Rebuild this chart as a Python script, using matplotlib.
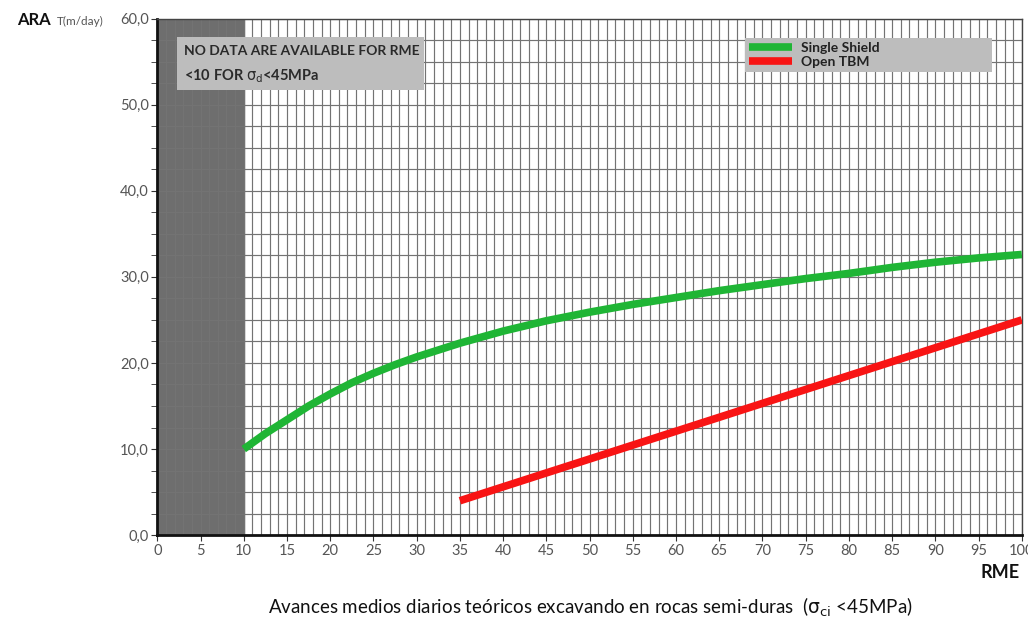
import matplotlib.pyplot as plt
from matplotlib.patches import Rectangle
from matplotlib.ticker import MultipleLocator, FuncFormatter

# ------------------------------------------------------------
# Avance medio diario teórico (ARA) frente a RME
# ------------------------------------------------------------

rme_single = [10, 12.5, 15, 17.5, 20, 22.5, 25, 27.5, 30, 32.5, 35, 40, 45, 50,
              55, 60, 65, 70, 75, 80, 85, 90, 95, 100]
ara_single = [10.0, 11.8, 13.4, 15.0, 16.4, 17.7, 18.8, 19.8, 20.7, 21.5, 22.3, 23.7,
              24.9, 25.9, 26.8, 27.6, 28.4, 29.1, 29.8, 30.4, 31.1, 31.7, 32.2, 32.6]

rme_open = [35, 100]
ara_open = [4.0, 25.0]

labels = ['Single Shield', 'Open TBM']
colors = ['#1fb535', '#f81414']

plt.rcParams['font.family'] = ['Lato', 'DejaVu Sans']

fig = plt.figure(figsize=(10.28, 6.18), dpi=100)
ax = fig.add_axes([0.153, 0.134, 0.841, 0.836])

ax.set_xlim(0, 100)
ax.set_ylim(0, 60)

# zona sin datos (RME < 10)
ax.axvspan(0, 10, color='#6e6e6e', zorder=0)

# cuadrícula fina
ax.xaxis.set_major_locator(MultipleLocator(5))
ax.xaxis.set_minor_locator(MultipleLocator(1))
ax.yaxis.set_major_locator(MultipleLocator(10))
ax.yaxis.set_minor_locator(MultipleLocator(2.5))
ax.grid(which='both', color='#737373', linewidth=0.85, zorder=1)
ax.set_axisbelow(True)

ax.plot(rme_single, ara_single, color=colors[0], linewidth=5.5,
        solid_capstyle='butt', solid_joinstyle='round', label=labels[0], zorder=3)
ax.plot(rme_open, ara_open, color=colors[1], linewidth=5.5,
        solid_capstyle='butt', label=labels[1], zorder=3)

# ejes
for side in ['top', 'right']:
    ax.spines[side].set_color('#444444')
    ax.spines[side].set_linewidth(1.0)
for side in ['left', 'bottom']:
    ax.spines[side].set_color('#111111')
    ax.spines[side].set_linewidth(2.0)

ax.yaxis.set_major_formatter(FuncFormatter(lambda v, p: f'{v:.1f}'.replace('.', ',')))
ax.tick_params(axis='both', which='major', labelsize=10.5, labelcolor='#555555',
               color='#333333', length=4)
ax.tick_params(axis='x', which='minor', length=0)
ax.tick_params(axis='y', which='minor', length=4, color='#333333')
ax.tick_params(axis='y', pad=2)
ax.tick_params(axis='x', pad=2)

# recuadro de aviso
ax.add_patch(Rectangle((2.3, 51.7), 28.5, 6.1, facecolor='#bdbdbd',
                       edgecolor='none', zorder=4))
ax.text(3.1, 56.2, 'NO DATA ARE AVAILABLE FOR RME', fontsize=10, fontweight='bold',
        color='#2a2a2a', va='center', zorder=5)
ax.text(3.1, 53.3, r'<10 FOR $\mathsf{\sigma_d}$<45MPa', fontsize=10.5, fontweight='bold',
        color='#2a2a2a', va='center', zorder=5)

# leyenda
leg = ax.legend(loc='upper left', bbox_to_anchor=(0.68, 0.892, 0.286, 0.07),
                mode='expand', frameon=True, fancybox=False, borderaxespad=0,
                handlelength=3.1, handletextpad=0.6, borderpad=0.3,
                labelspacing=0.1, prop={'weight': 'bold', 'size': 10})
leg.get_frame().set_facecolor('#bdbdbd')
leg.get_frame().set_edgecolor('none')
leg.get_frame().set_alpha(1)
leg.set_zorder(5)
for t in leg.get_texts():
    t.set_color('#222222')

# textos de ejes
fig.text(0.017, 0.967, 'ARA', fontsize=12, fontweight='bold', color='#111111', va='center')
fig.text(0.055, 0.965, 'T(m/day)', fontsize=8.5, color='#555555', va='center')
fig.text(0.992, 0.073, 'RME', fontsize=13, fontweight='bold', color='#111111',
         ha='right', va='center')
fig.text(0.574, 0.017,
         r'Avances medios diarios teóricos excavando en rocas semi-duras  ($\mathsf{\sigma_{ci}}$ <45MPa)',
         fontsize=13.5, color='#111111', ha='center', va='center')

fig.savefig('out.png', dpi=100)
